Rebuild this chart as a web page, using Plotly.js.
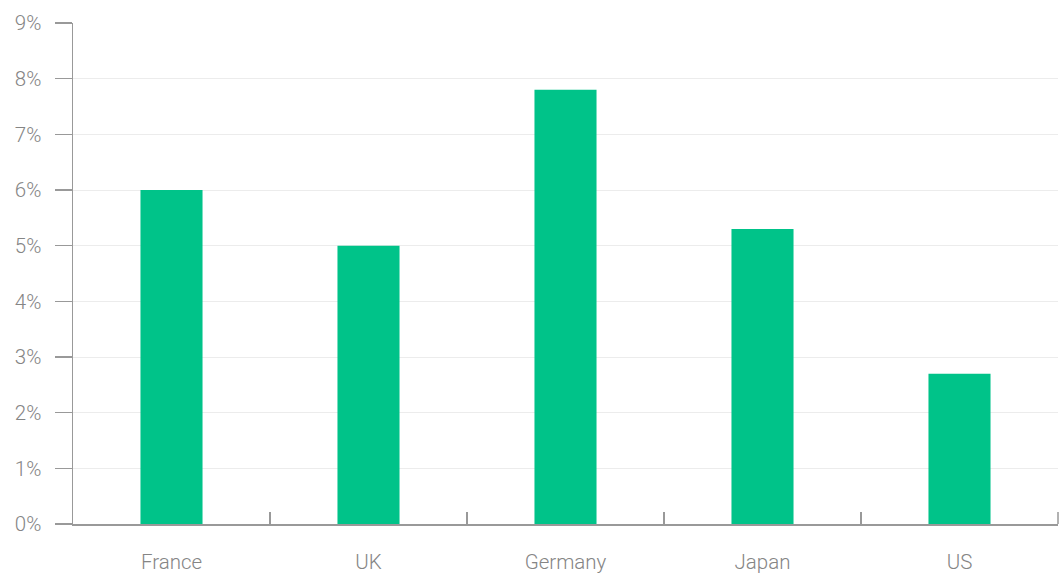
<!DOCTYPE html>
<html>
<head>
<meta charset="utf-8">
<script src="https://cdn.plot.ly/plotly-3.0.1.min.js"></script>
<style>html,body{margin:0;padding:0;background:#fff;}#chart{width:1060px;height:575px;}</style>
</head>
<body>
<div id="chart"></div>
<script>
const categories = ["France", "UK", "Germany", "Japan", "US"];
const values = [0.060, 0.050, 0.078, 0.053, 0.027];
const yTickVals = [0, 0.01, 0.02, 0.03, 0.04, 0.05, 0.06, 0.07, 0.08, 0.09];
const yTickText = ["0%", "1%", "2%", "3%", "4%", "5%", "6%", "7%", "8%", "9%"];

const font = {family: "Roboto, Liberation Sans, Arial, sans-serif", size: 20.5, color: "#858585", weight: 300};

Plotly.newPlot("chart", [{
  type: "bar",
  x: categories,
  y: values,
  marker: {color: "#00C389"},
  width: 0.315,
  hoverinfo: "skip"
}], {
  width: 1060,
  height: 575,
  margin: {l: 73, r: 2, t: 23, b: 51},
  paper_bgcolor: "#fff",
  plot_bgcolor: "#fff",
  showlegend: false,
  font: font,
  xaxis: {
    type: "category",
    range: [-0.5, 4.5],
    showline: true,
    linecolor: "#999",
    linewidth: 1.5,
    ticks: "inside",
    tickson: "boundaries",
    ticklen: 12,
    tickcolor: "#999",
    tickwidth: 1.5,
    showgrid: false,
    ticklabelstandoff: 19,
    tickfont: font,
    zeroline: false
  },
  yaxis: {
    range: [0, 0.09],
    tickvals: yTickVals,
    ticktext: yTickText,
    showline: true,
    linecolor: "#999",
    linewidth: 1.5,
    ticks: "outside",
    ticklen: 17,
    tickcolor: "#999",
    tickwidth: 1.5,
    showgrid: true,
    gridcolor: "#ececec",
    gridwidth: 1,
    zeroline: false,
    ticklabelstandoff: 9,
    tickfont: font
  },
  shapes: [{
    type: "line",
    xref: "paper", yref: "paper",
    ysizemode: "pixel", yanchor: 0,
    x0: 1, x1: 1, y0: 0, y1: 12,
    line: {color: "#999", width: 1.5}
  }]
}, {staticPlot: true, displayModeBar: false});
</script>
</body>
</html>
